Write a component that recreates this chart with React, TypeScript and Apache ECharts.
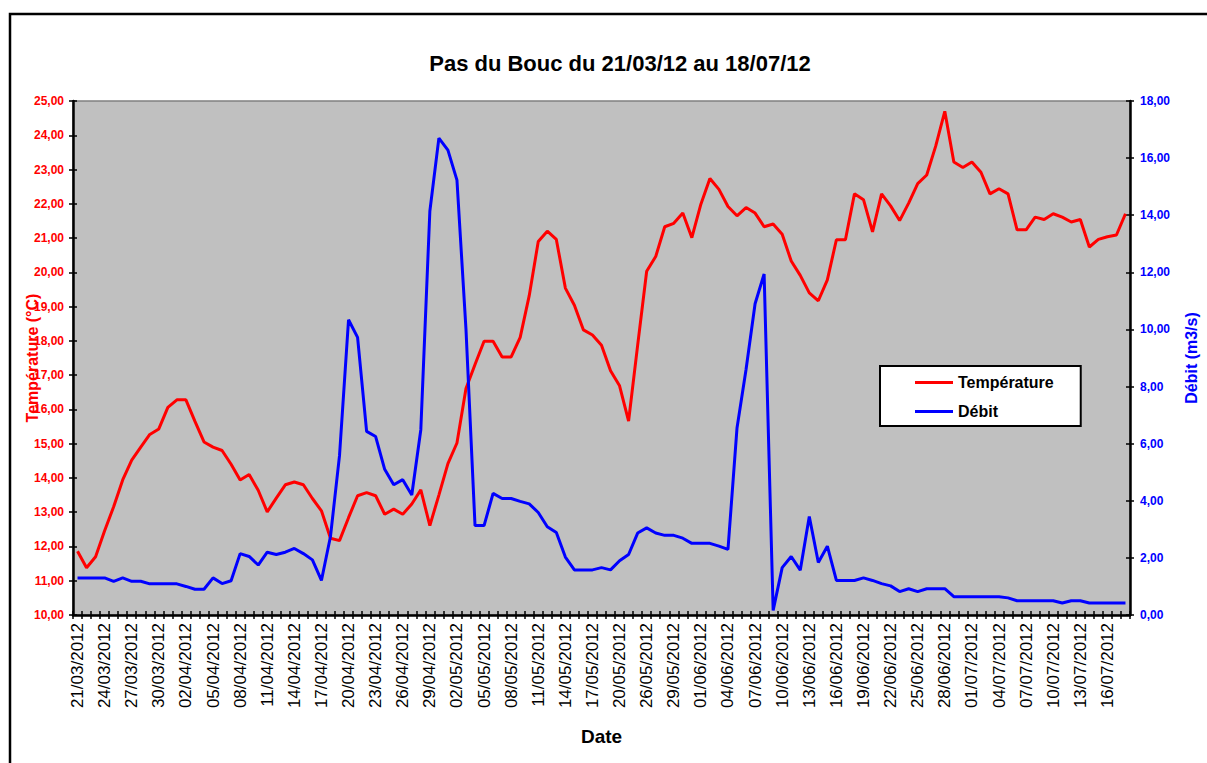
import React, { useEffect, useRef } from "react";
import * as echarts from "echarts";

const DATES = [
  "21/03/2012","22/03/2012","23/03/2012","24/03/2012","25/03/2012","26/03/2012","27/03/2012","28/03/2012","29/03/2012","30/03/2012","31/03/2012",
  "01/04/2012","02/04/2012","03/04/2012","04/04/2012","05/04/2012","06/04/2012","07/04/2012","08/04/2012","09/04/2012","10/04/2012",
  "11/04/2012","12/04/2012","13/04/2012","14/04/2012","15/04/2012","16/04/2012","17/04/2012","18/04/2012","19/04/2012","20/04/2012",
  "21/04/2012","22/04/2012","23/04/2012","24/04/2012","25/04/2012","26/04/2012","27/04/2012","28/04/2012","29/04/2012","30/04/2012",
  "01/05/2012","02/05/2012","03/05/2012","04/05/2012","05/05/2012","06/05/2012","07/05/2012","08/05/2012","09/05/2012","10/05/2012",
  "11/05/2012","12/05/2012","13/05/2012","14/05/2012","15/05/2012","16/05/2012","17/05/2012","18/05/2012","19/05/2012","20/05/2012",
  "21/05/2012","22/05/2012",
  "26/05/2012","27/05/2012","28/05/2012","29/05/2012","30/05/2012","31/05/2012",
  "01/06/2012","02/06/2012","03/06/2012","04/06/2012","05/06/2012","06/06/2012","07/06/2012","08/06/2012","09/06/2012","10/06/2012",
  "11/06/2012","12/06/2012","13/06/2012","14/06/2012","15/06/2012","16/06/2012","17/06/2012","18/06/2012","19/06/2012","20/06/2012",
  "21/06/2012","22/06/2012","23/06/2012","24/06/2012","25/06/2012","26/06/2012","27/06/2012","28/06/2012","29/06/2012","30/06/2012",
  "01/07/2012","02/07/2012","03/07/2012","04/07/2012","05/07/2012","06/07/2012","07/07/2012","08/07/2012","09/07/2012","10/07/2012",
  "11/07/2012","12/07/2012","13/07/2012","14/07/2012","15/07/2012","16/07/2012","17/07/2012","18/07/2012",
];

const TEMPERATURE = [
  11.86, 11.38, 11.7, 12.46, 13.16, 13.94, 14.52, 14.9, 15.27, 15.43,
  16.06, 16.28, 16.28, 15.65, 15.05, 14.9, 14.8, 14.4, 13.94, 14.1,
  13.64, 13.01, 13.41, 13.8, 13.88, 13.8, 13.4, 13.04, 12.24, 12.17,
  12.84, 13.48, 13.57, 13.48, 12.94, 13.09, 12.94, 13.24, 13.65, 12.61,
  13.5, 14.42, 15.02, 16.61, 17.31, 17.99, 17.99, 17.53, 17.53, 18.1,
  19.32, 20.9, 21.2, 20.96, 19.54, 19.04, 18.32, 18.17, 17.87, 17.13,
  16.69, 15.66, 17.87, 20.03, 20.46, 21.33, 21.43, 21.73, 21.01, 21.99,
  22.74, 22.42, 21.92, 21.65, 21.89, 21.73, 21.33, 21.41, 21.11, 20.33,
  19.91, 19.4, 19.17, 19.78, 20.95, 20.95, 22.29, 22.12, 21.18, 22.29,
  21.94, 21.51, 22.02, 22.59, 22.84, 23.69, 24.7, 23.22, 23.06, 23.22,
  22.92, 22.29, 22.44, 22.29, 21.24, 21.24, 21.61, 21.54, 21.71, 21.61,
  21.47, 21.54, 20.74, 20.96, 21.04, 21.09, 21.71,
];

const DEBIT = [
  1.3, 1.3, 1.3, 1.3, 1.18, 1.3, 1.18, 1.18, 1.09, 1.09,
  1.09, 1.09, 1.0, 0.9, 0.9, 1.3, 1.1, 1.2, 2.15, 2.05,
  1.75, 2.2, 2.12, 2.2, 2.33, 2.15, 1.93, 1.21, 2.75, 5.58,
  10.34, 9.72, 6.43, 6.25, 5.1, 4.56, 4.74, 4.2, 6.49, 14.14,
  16.7, 16.28, 15.23, 10.0, 3.13, 3.13, 4.26, 4.08, 4.08, 3.98,
  3.89, 3.59, 3.09, 2.89, 2.03, 1.58, 1.58, 1.58, 1.66, 1.58,
  1.9, 2.12, 2.87, 3.05, 2.87, 2.79, 2.79, 2.69, 2.51, 2.51,
  2.51, 2.41, 2.3, 6.55, 8.6, 10.9, 11.94, 0.16, 1.66, 2.05,
  1.57, 3.45, 1.84, 2.41, 1.21, 1.21, 1.21, 1.3, 1.21, 1.1,
  1.02, 0.82, 0.92, 0.82, 0.92, 0.92, 0.92, 0.64, 0.64, 0.64,
  0.64, 0.64, 0.64, 0.6, 0.5, 0.5, 0.5, 0.5, 0.5, 0.42,
  0.5, 0.5, 0.42, 0.42, 0.42, 0.42, 0.42,
];

const TITLE = "Pas du Bouc du 21/03/12 au 18/07/12";
const FONT = "'Liberation Sans', Arial, sans-serif";
const fmt = (v: number) => v.toFixed(2).replace(".", ",");

const TICK = { color: "#000", width: 1.5 };

export default function App() {
  const ref = useRef<HTMLDivElement>(null);
  useEffect(() => {
    if (!ref.current) return;
    const chart = echarts.init(ref.current, undefined, { renderer: "svg" });
    chart.setOption({
      animation: false,
      backgroundColor: "#ffffff",
      textStyle: { fontFamily: FONT },
      title: {
        text: TITLE,
        left: 615,
        top: 47,
        textAlign: "center",
        textStyle: { fontSize: 22, fontWeight: "bold", color: "#000", fontFamily: FONT },
      },
      graphic: [
        {
          type: "rect",
          shape: { x: 10, y: 14, width: 1260, height: 800 },
          style: { fill: "none", stroke: "#000", lineWidth: 2.5 },
          silent: true,
        },
      ],
      legend: {
        orient: "vertical",
        left: 880,
        top: 366,
        backgroundColor: "#ffffff",
        borderColor: "#000",
        borderWidth: 2,
        borderRadius: 0,
        padding: [8, 27, 6, 35],
        itemWidth: 38,
        itemHeight: 3,
        itemGap: 12,
        icon: "rect",
        textStyle: { fontSize: 16, fontWeight: "bold", color: "#000", fontFamily: FONT, lineHeight: 17 },
        data: ["Température", "Débit"],
      },
      grid: {
        left: 73,
        right: 72,
        top: 101,
        bottom: 148,
        show: true,
        backgroundColor: "#C0C0C0",
        borderColor: "#808080",
        borderWidth: 1.5,
      },
      xAxis: [
        {
          type: "category",
          data: DATES,
          boundaryGap: true,
          position: "bottom",
          name: "Date",
          nameLocation: "middle",
          nameGap: 112,
          nameMoveOverlap: false,
          nameTextStyle: { fontSize: 19, fontWeight: "bold", color: "#000", fontFamily: FONT },
          axisLine: { show: true, lineStyle: { color: "#000", width: 2.5 } },
          axisTick: { show: true, interval: 0, length: 4, lineStyle: TICK },
          axisLabel: {
            interval: 2,
            rotate: 90,
            margin: 8,
            fontSize: 17,
            color: "#000",
            fontFamily: FONT,
          },
          splitLine: { show: false },
        },
        {
          type: "category",
          data: DATES,
          boundaryGap: true,
          position: "bottom",
          axisLine: { show: false },
          axisTick: { show: true, inside: true, interval: 0, length: 4, lineStyle: TICK },
          axisLabel: { show: false },
          splitLine: { show: false },
        },
      ],
      yAxis: [
        {
          type: "value",
          position: "left",
          min: 10,
          max: 25,
          interval: 1,
          name: "Température (°C)",
          nameLocation: "middle",
          nameGap: 33,
          nameMoveOverlap: false,
          nameTextStyle: { fontSize: 16, fontWeight: "bold", color: "#FF0000", fontFamily: FONT },
          axisLine: { show: true, lineStyle: { color: "#000", width: 2.5 } },
          axisTick: { show: true, length: 4, lineStyle: TICK },
          axisLabel: { formatter: fmt, fontSize: 12, fontWeight: "bold", color: "#FF0000", margin: 9, fontFamily: FONT },
          splitLine: { show: false },
        },
        {
          type: "value",
          position: "right",
          min: 0,
          max: 18,
          interval: 2,
          name: "Débit (m3/s)",
          nameLocation: "middle",
          nameGap: 53,
          nameMoveOverlap: false,
          nameTextStyle: { fontSize: 16, fontWeight: "bold", color: "#0000FF", fontFamily: FONT },
          axisLine: { show: true, lineStyle: { color: "#000", width: 2.5 } },
          axisTick: { show: true, length: 4, lineStyle: TICK },
          axisLabel: { formatter: fmt, fontSize: 12, fontWeight: "bold", color: "#0000FF", margin: 10, fontFamily: FONT },
          splitLine: { show: false },
        },
        {
          type: "value",
          position: "left",
          min: 10,
          max: 25,
          interval: 1,
          axisLine: { show: false },
          axisTick: { show: true, inside: true, length: 4, lineStyle: TICK },
          axisLabel: { show: false },
          splitLine: { show: false },
        },
        {
          type: "value",
          position: "right",
          min: 0,
          max: 18,
          interval: 2,
          axisLine: { show: false },
          axisTick: { show: true, inside: true, length: 4, lineStyle: TICK },
          axisLabel: { show: false },
          splitLine: { show: false },
        },
      ],
      series: [
        {
          name: "Température",
          type: "line",
          xAxisIndex: 0,
          yAxisIndex: 0,
          data: TEMPERATURE,
          symbol: "none",
          lineStyle: { color: "#FF0000", width: 3 },
          itemStyle: { color: "#FF0000" },
        },
        {
          name: "Débit",
          type: "line",
          xAxisIndex: 0,
          yAxisIndex: 1,
          data: DEBIT,
          symbol: "none",
          lineStyle: { color: "#0000FF", width: 3 },
          itemStyle: { color: "#0000FF" },
        },
      ],
    });
    return () => chart.dispose();
  }, []);
  return (
    <div
      ref={ref}
      style={{ position: "fixed", left: 0, top: 0, width: 1207, height: 763 }}
    />
  );
}
